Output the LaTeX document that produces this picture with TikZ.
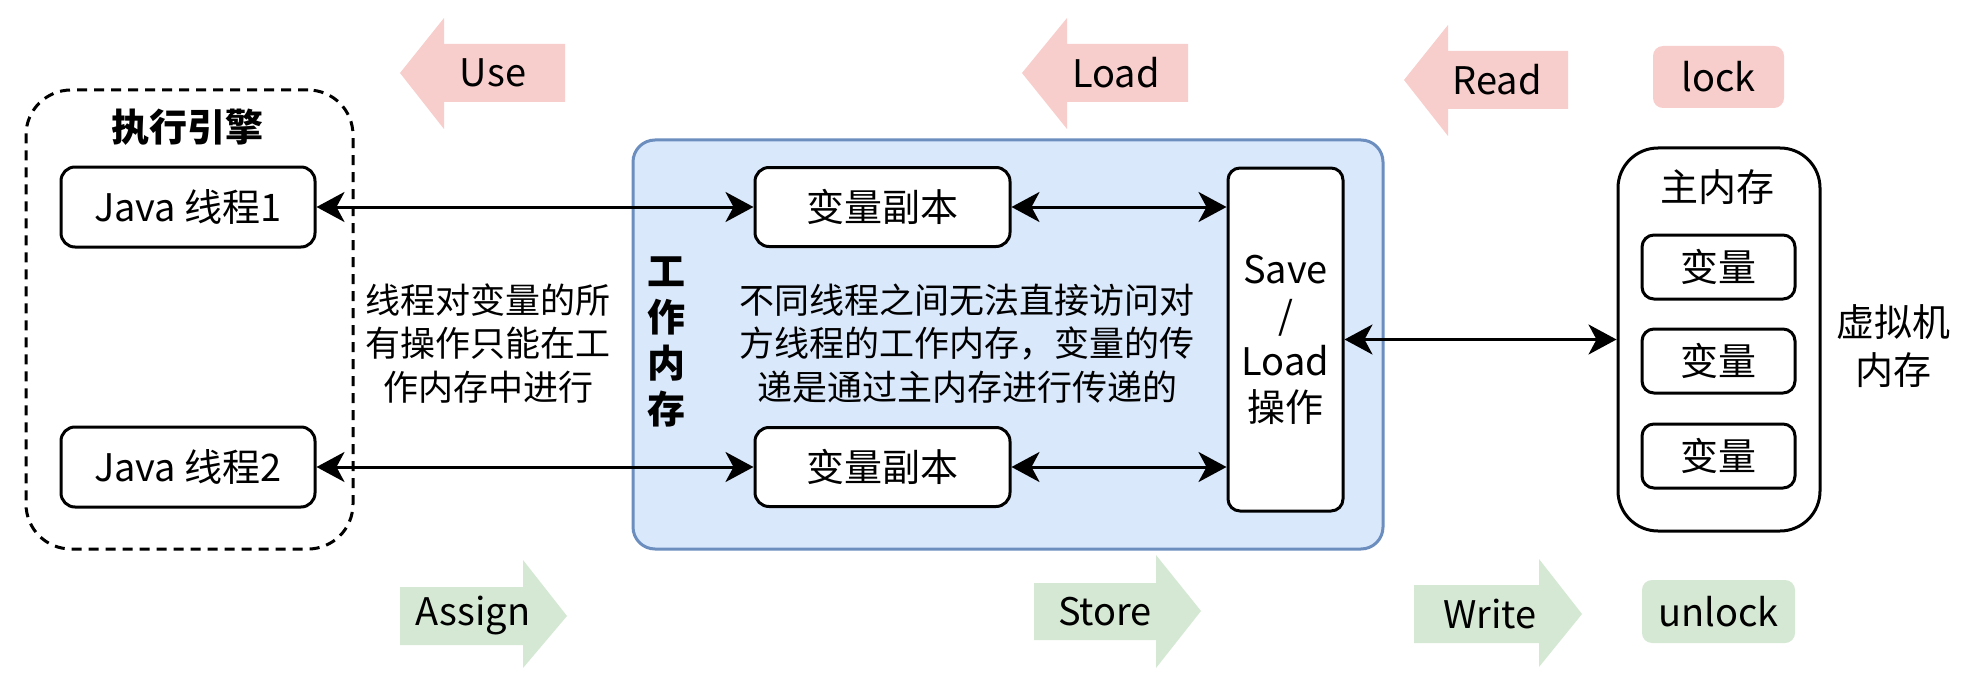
\documentclass[tikz,border=0pt]{standalone}
\usepackage{fontspec}
\setmainfont{Noto Sans CJK SC}
\usetikzlibrary{arrows.meta}
\definecolor{pinkf}{HTML}{F8CECC}
\definecolor{greenf}{HTML}{D5E8D4}
\definecolor{bluef}{HTML}{DAE8FC}
\definecolor{blued}{HTML}{6C8EBF}
\tikzset{
  box/.style={draw=black, line width=3pt, fill=white, rounded corners=14pt, inner sep=0pt,
    font=\fontsize{38}{46}\selectfont, align=center},
  note/.style={inner sep=0pt, align=center, font=\fontsize{35}{43.5}\selectfont},
  lbl/.style={inner sep=0pt, font=\fontsize{38}{46}\selectfont},
  biarr/.style={line width=3pt, {Stealth[length=28pt,width=30pt,inset=8pt]}-{Stealth[length=28pt,width=30pt,inset=8pt]}},
}
\begin{document}
\begin{tikzpicture}[x=1pt,y=-1pt]
\useasboundingbox[fill=white] (0,0) rectangle (1962,682);

% block arrows (top, pink, pointing left)
\fill[pinkf] (400,73) -- (444,18) -- (444,44) -- (565,44) -- (565,102) -- (444,102) -- (444,129) -- cycle;
\node[lbl] (use) at (493,73) {Use};
\fill[pinkf] (1022,73) -- (1067,18) -- (1067,44) -- (1188,44) -- (1188,102) -- (1067,102) -- (1067,129) -- cycle;
\node[lbl] (load) at (1116,73) {Load};
\fill[pinkf] (1404,80) -- (1448,25) -- (1448,51) -- (1568,51) -- (1568,109) -- (1448,109) -- (1448,136) -- cycle;
\node[lbl] (read) at (1497,80) {Read};
\node[lbl, fill=pinkf, rounded corners=10pt, minimum width=131pt, minimum height=62pt] (lock) at (1718.5,77) {lock};

% block arrows (bottom, green, pointing right)
\fill[greenf] (400,587) -- (523,587) -- (523,560) -- (567,616) -- (523,668) -- (523,645) -- (400,645) -- cycle;
\node[lbl] (assign) at (473,616) {Assign};
\fill[greenf] (1034,583) -- (1156,583) -- (1156,555) -- (1201,611) -- (1156,668) -- (1156,640) -- (1034,640) -- cycle;
\node[lbl] (store) at (1105,612) {Store};
\fill[greenf] (1414,585) -- (1539,585) -- (1539,559) -- (1582,614) -- (1539,667) -- (1539,643) -- (1414,643) -- cycle;
\node[lbl] (write) at (1490,614) {Write};
\node[lbl, fill=greenf, rounded corners=10pt, minimum width=153pt, minimum height=63pt] (unlock) at (1718.5,611.5) {unlock};

% execution engine
\node[draw=black, line width=3pt, dash pattern=on 10pt off 7pt, rounded corners=45pt,
  minimum width=327pt, minimum height=459pt, inner sep=0pt] (engine) at (189.5,319.5) {};
\node[lbl, font=\fontsize{38}{46}\selectfont\bfseries] (enginet) at (187,127) {执行引擎};
\node[box, minimum width=254pt, minimum height=80pt] (j1) at (188,207) {Java 线程1};
\node[box, minimum width=254pt, minimum height=80pt] (j2) at (188,467) {Java 线程2};
\node[note] (lnote) at (488,343.5) {线程对变量的所\\有操作只能在工\\作内存中进行};

% working memory
\node[draw=blued, fill=bluef, line width=3pt, rounded corners=22pt,
  minimum width=750pt, minimum height=409pt, inner sep=0pt] (wm) at (1008,344.5) {};
\node[inner sep=0pt, align=center, font=\fontsize{38}{46}\selectfont\bfseries] (wmt) at (666,342) {工\\作\\内\\存};
\node[box, minimum width=255pt, minimum height=79pt] (c1) at (882.5,207) {变量副本};
\node[box, minimum width=255pt, minimum height=79pt] (c2) at (882.5,467) {变量副本};
\node[note] (mnote) at (967,343.5) {不同线程之间无法直接访问对\\方线程的工作内存，变量的传\\递是通过主内存进行传递的};
\node[box, rounded corners=12pt, minimum width=115pt, minimum height=343pt] (sl) at (1285.5,339.5) {Save\\/\\Load\\操作};

% main memory
\node[draw=black, fill=white, line width=3pt, rounded corners=40pt,
  minimum width=202pt, minimum height=383pt, inner sep=0pt] (mm) at (1719,339.5) {};
\node[lbl] (mmt) at (1717,187) {主内存};
\node[box, rounded corners=12pt, minimum width=153pt, minimum height=64pt] (v1) at (1718.5,267) {变量};
\node[box, rounded corners=12pt, minimum width=153pt, minimum height=64pt] (v2) at (1718.5,361) {变量};
\node[box, rounded corners=12pt, minimum width=153pt, minimum height=64pt] (v3) at (1718.5,456) {变量};
\node[inner sep=0pt, align=center, font=\fontsize{38}{48}\selectfont] (vm) at (1893,346) {虚拟机\\内存};

% connectors
\draw[biarr] (j1.east) -- (c1.west);
\draw[biarr] (j2.east) -- (c2.west);
\draw[biarr] (c1.east) -- (c1.east -| sl.west);
\draw[biarr] (c2.east) -- (c2.east -| sl.west);
\draw[biarr] (sl.east) -- (mm.west);
\end{tikzpicture}
\end{document}
